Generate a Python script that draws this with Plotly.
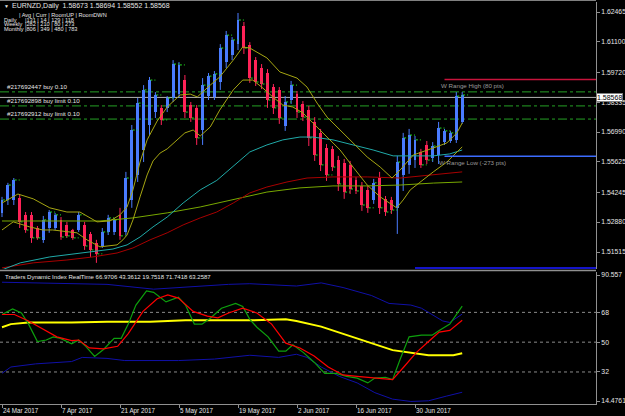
import plotly.graph_objects as go

# ---------------- data ----------------
bar_index = list(range(79))
opens = [1.5330, 1.5389, 1.5389, 1.5398, 1.5321, 1.5321, 1.5261, 1.5207, 1.5261, 1.5261,
         1.5298, 1.5275, 1.5252, 1.5252, 1.5275, 1.5234, 1.5193, 1.5179, 1.5243, 1.5243,
         1.5321, 1.5243, 1.5389, 1.5503, 1.5617, 1.5731, 1.5790, 1.5809, 1.5809, 1.5854,
         1.5872, 1.5936, 1.5822, 1.5809, 1.5708, 1.5863, 1.5859, 1.5927, 1.6018, 1.6050,
         1.6100, 1.6182, 1.6096, 1.6027, 1.5991, 1.5968, 1.5904, 1.5891, 1.5726, 1.5845,
         1.5872, 1.5827, 1.5799, 1.5745, 1.5695, 1.5626, 1.5622, 1.5571, 1.5558, 1.5549,
         1.5480, 1.5453, 1.5435, 1.5389, 1.5489, 1.5394, 1.5389, 1.5353, 1.5503, 1.5549,
         1.5571, 1.5608, 1.5640, 1.5581, 1.5594, 1.5653, 1.5658, 1.5663, 1.5745]
highs = [1.5403, 1.5467, 1.5489, 1.5412, 1.5334, 1.5334, 1.5270, 1.5316, 1.5343, 1.5330,
         1.5311, 1.5289, 1.5257, 1.5334, 1.5289, 1.5243, 1.5207, 1.5261, 1.5321, 1.5307,
         1.5353, 1.5517, 1.5731, 1.5854, 1.5913, 1.5950, 1.5881, 1.5822, 1.5863, 1.6027,
         1.6018, 1.5959, 1.5836, 1.5822, 1.5945, 1.5968, 1.5977, 1.6100, 1.6160, 1.6132,
         1.6242, 1.6201, 1.6109, 1.6041, 1.6009, 1.5986, 1.5918, 1.5904, 1.5863, 1.5932,
         1.5886, 1.5840, 1.5818, 1.5767, 1.5713, 1.5644, 1.5635, 1.5590, 1.5576, 1.5567,
         1.5494, 1.5471, 1.5453, 1.5485, 1.5517, 1.5407, 1.5403, 1.5590, 1.5695, 1.5713,
         1.5681, 1.5622, 1.5658, 1.5653, 1.5745, 1.5713, 1.5704, 1.5881, 1.5881]
lows = [1.5311, 1.5366, 1.5366, 1.5261, 1.5239, 1.5193, 1.5207, 1.5193, 1.5239, 1.5252,
        1.5207, 1.5216, 1.5207, 1.5243, 1.5161, 1.5129, 1.5102, 1.5170, 1.5229, 1.5229,
        1.5207, 1.5229, 1.5353, 1.5471, 1.5562, 1.5685, 1.5763, 1.5731, 1.5790, 1.5836,
        1.5854, 1.5763, 1.5745, 1.5640, 1.5640, 1.5845, 1.5845, 1.5891, 1.5991, 1.6027,
        1.6073, 1.6055, 1.5923, 1.5909, 1.5895, 1.5809, 1.5781, 1.5736, 1.5704, 1.5827,
        1.5763, 1.5749, 1.5635, 1.5567, 1.5521, 1.5476, 1.5521, 1.5430, 1.5394, 1.5416,
        1.5416, 1.5339, 1.5330, 1.5371, 1.5325, 1.5316, 1.5325, 1.5234, 1.5430, 1.5508,
        1.5535, 1.5535, 1.5553, 1.5562, 1.5553, 1.5640, 1.5649, 1.5649, 1.5736]
closes = [1.5389, 1.5457, 1.5480, 1.5289, 1.5252, 1.5216, 1.5216, 1.5298, 1.5334, 1.5321,
          1.5220, 1.5225, 1.5216, 1.5321, 1.5179, 1.5161, 1.5143, 1.5243, 1.5307, 1.5298,
          1.5225, 1.5489, 1.5708, 1.5831, 1.5891, 1.5936, 1.5868, 1.5754, 1.5854, 1.6009,
          1.6005, 1.5790, 1.5763, 1.5672, 1.5913, 1.5954, 1.5964, 1.6082, 1.6141, 1.6119,
          1.6210, 1.6082, 1.5945, 1.5927, 1.5918, 1.5845, 1.5809, 1.5763, 1.5836, 1.5913,
          1.5790, 1.5767, 1.5672, 1.5594, 1.5549, 1.5503, 1.5539, 1.5462, 1.5425, 1.5439,
          1.5430, 1.5366, 1.5353, 1.5467, 1.5353, 1.5334, 1.5343, 1.5562, 1.5672, 1.5685,
          1.5663, 1.5549, 1.5571, 1.5635, 1.5717, 1.5704, 1.5695, 1.5863, 1.5868]

# moving-average style lines on the price chart (bar position, price)
ma_upper_x = [0, 2.7, 5.3, 8.1, 11.0, 13.2, 16.1, 18.3, 20.0, 21.2, 22.2, 23.4, 24.6, 26.3, 28.0,
              30.2, 31.9, 33.1, 35.3, 36.9, 39.2, 40.8, 42.0, 44.9, 47.1, 50.0, 51.7, 53.4, 55.1,
              57.3, 59.5, 61.9, 64.1, 66.1, 67.5, 69.7, 73.1, 75.4, 77.1, 78.0]
ma_upper_y = [1.5375, 1.5416, 1.5394, 1.5353, 1.5334, 1.5334, 1.5289, 1.5293, 1.5321, 1.5357,
              1.5435, 1.5562, 1.5663, 1.5749, 1.5813, 1.5868, 1.5872, 1.5859, 1.5913, 1.5950,
              1.6027, 1.6087, 1.6082, 1.6037, 1.5973, 1.5945, 1.5904, 1.5831, 1.5767, 1.5708,
              1.5649, 1.5585, 1.5539, 1.5489, 1.5526, 1.5594, 1.5626, 1.5649, 1.5695, 1.5740]
ma_lower_x = [0, 1.9, 4.7, 6.9, 8.6, 12.7, 14.4, 16.6, 19.5, 20.5, 21.2, 22.2, 23.4, 24.6, 25.6,
              26.8, 28.0, 29.7, 31.0, 32.4, 33.6, 35.3, 36.9, 39.2, 40.8, 42.5, 44.2, 45.9, 47.6,
              49.3, 51.0, 52.7, 55.1, 57.3, 59.5, 61.9, 64.1, 66.1, 66.9, 68.0, 69.2, 73.1, 75.4, 78.0]
ma_lower_y = [1.5252, 1.5289, 1.5266, 1.5252, 1.5252, 1.5239, 1.5207, 1.5175, 1.5184, 1.5207,
              1.5229, 1.5298, 1.5403, 1.5503, 1.5567, 1.5603, 1.5622, 1.5663, 1.5695, 1.5708,
              1.5681, 1.5722, 1.5799, 1.5891, 1.5936, 1.5936, 1.5900, 1.5859, 1.5822, 1.5813,
              1.5786, 1.5740, 1.5676, 1.5617, 1.5539, 1.5457, 1.5403, 1.5366, 1.5353, 1.5389,
              1.5435, 1.5517, 1.5562, 1.5631]
ma_teal_x = [0, 3.1, 8.1, 11.0, 13.7, 16.6, 18.8, 21.2, 23.4, 25.6, 28.0, 30.7, 33.6, 36.4, 39.2,
             42.0, 44.9, 47.6, 50.5, 52.7, 56.1, 59.5, 62.9, 66.3, 69.2, 73.1, 75.9, 78.0]
ma_teal_y = [1.5070, 1.5102, 1.5129, 1.5138, 1.5147, 1.5156, 1.5165, 1.5184, 1.5220, 1.5266,
             1.5311, 1.5375, 1.5435, 1.5478, 1.5545, 1.5608, 1.5640, 1.5663, 1.5676, 1.5676,
             1.5663, 1.5640, 1.5617, 1.5590, 1.5590, 1.5590, 1.5599, 1.5617]
ma_darkred_x = [0, 5.3, 11.0, 15.4, 19.5, 22.2, 25.1, 28.0, 30.7, 33.6, 36.4, 39.2, 42.0, 44.9,
                48.3, 51.7, 56.1, 61.9, 67.5, 73.1, 78.0]
ma_darkred_y = [1.5079, 1.5102, 1.5115, 1.5129, 1.5147, 1.5170, 1.5207, 1.5239, 1.5275, 1.5307,
                1.5334, 1.5375, 1.5421, 1.5448, 1.5471, 1.5489, 1.5494, 1.5494, 1.5489, 1.5503, 1.5517]
ma_green_x = [0, 11.0, 16.6, 22.2, 28.0, 33.6, 39.2, 44.9, 50.5, 56.1, 61.9, 67.5, 73.1, 78.0]
ma_green_y = [1.5293, 1.5293, 1.5293, 1.5307, 1.5330, 1.5357, 1.5389, 1.5425, 1.5444, 1.5453,
              1.5453, 1.5457, 1.5466, 1.5471]

# levels
order_prices = [1.5882, 1.5818, 1.5758]
order_labels = ["#217692447 buy 0.10", "#217692898 buy limit 0.10", "#217692912 buy limit 0.10"]
bid_price = 1.58568
w_range_high = 1.5939
w_range_low = 1.5588
w_range_start = 75
m_range_low = 1.5079
m_range_start = 70

price_tick_vals = [1.62465, 1.61100, 1.59720, 1.58335, 1.56990, 1.55625, 1.54245, 1.52880, 1.51515]
price_tick_text = ["1.62465", "1.61100", "1.59720", "1.58335", "1.56990", "1.55625", "1.54245",
                   "1.52880", "1.51515"]

# Traders Dynamic Index
tdi_green_x = [0, 1.8, 3.3, 4.5, 6.0, 7.5, 8.7, 9.9, 11.8, 13.0, 14.2, 15.7, 17.2, 19.0, 20.2, 21.4,
               22.7, 24.5, 25.7, 27.8, 29.9, 31.1, 32.6, 33.9, 35.4, 37.2, 39.6, 40.8, 42.0, 43.2,
               45.1, 46.9, 48.1, 49.3, 51.1, 52.9, 54.7, 56.6, 58.4, 60.2, 62.0, 63.2, 65.0, 66.2,
               67.5, 69.0, 71.1, 72.9, 74.1, 75.9, 78.0]
tdi_green_y = [66.7, 70.1, 67.6, 60.9, 50.4, 51.3, 53.2, 52.3, 49.0, 51.3, 47.5, 41.4, 45.6, 52.3,
               52.3, 60.9, 72.4, 81.0, 80.1, 74.3, 77.2, 72.4, 60.9, 60.9, 64.7, 70.5, 73.4, 71.5,
               63.8, 59.0, 53.2, 44.6, 44.6, 48.4, 43.7, 37.9, 31.2, 31.2, 29.3, 28.3, 25.4, 28.3,
               28.7, 27.4, 39.8, 53.2, 54.2, 54.2, 57.1, 60.9, 71.7418]
tdi_red_x = [0, 2.1, 4.5, 6.9, 9.3, 11.8, 13.0, 14.8, 17.2, 19.6, 21.4, 23.9, 26.3, 28.1, 29.9,
             32.4, 34.8, 36.6, 38.4, 40.8, 43.2, 45.7, 48.1, 50.5, 52.9, 55.3, 57.8, 60.2, 63.2,
             66.2, 68.1, 70.2, 72.3, 74.1, 75.9, 78.0]
tdi_red_y = [66.7, 66.7, 62.8, 58.0, 53.2, 50.9, 51.3, 46.5, 46.0, 47.5, 55.2, 68.6, 76.2, 78.5,
             76.6, 68.6, 65.7, 64.7, 67.6, 70.5, 67.6, 60.9, 49.4, 46.5, 41.7, 35.0, 30.2, 29.3,
             28.3, 27.4, 35.0, 43.7, 50.4, 56.1, 57.1, 63.2587]
tdi_yellow_x = [0, 1.5, 4.5, 11.8, 17.8, 25.1, 31.1, 36.0, 42.0, 48.1, 49.9, 54.1, 60.2, 66.2,
                72.3, 76.5, 78.0]
tdi_yellow_y = [59.0, 60.9, 61.9, 61.9, 62.4, 62.4, 63.2, 63.2, 63.2, 63.8, 62.8, 59.4, 52.3, 45.2,
                42.1, 42.1, 43.3612]
tdi_upper_x = [0, 17.8, 25.7, 29.9, 38.4, 42.0, 49.9, 54.1, 57.8, 62.6, 65.6, 69.3, 71.1, 74.7,
               75.9, 78.0]
tdi_upper_y = [86.2, 84.9, 82.0, 83.0, 84.9, 85.3, 83.9, 85.8, 83.0, 78.2, 73.4, 72.4, 70.5, 62.8,
               61.9, 66.9706]
tdi_lower_x = [0, 1.5, 5.7, 11.8, 13.6, 17.8, 20.8, 29.9, 36.0, 42.0, 46.9, 49.9, 51.7, 54.1,
               57.2, 60.2, 63.2, 66.2, 69.3, 72.3, 75.3, 78.0]
tdi_lower_y = [31.2, 35.0, 36.9, 38.3, 40.8, 40.2, 38.9, 38.9, 39.8, 42.1, 40.8, 42.7, 40.8, 35.0,
               29.3, 25.4, 19.5, 15.6, 14.2, 14.6, 17.4, 19.7518]
tdi_levels = [68, 50, 32]
tdi_tick_vals = [90.557, 68, 50, 32, 14.4761]
tdi_tick_text = ["90.557", "68", "50", "32", "14.4761"]

date_ticks = [0, 10, 20, 30, 40, 50, 60, 70]
date_labels = ["24 Mar 2017", "7 Apr 2017", "21 Apr 2017", "5 May 2017", "19 May 2017",
               "2 Jun 2017", "16 Jun 2017", "30 Jun 2017"]

title_text = "EURNZD,Daily  1.58673 1.58694 1.58552 1.58568"
info_header = "| Avg | Curr | RoomUP | RoomDWN"
info_names = ["Daily", "Weekly", "Monthly"]
info_values = ["|131 | 14 | 129 | 118", "|282 | 210 | 80 | 273", "|806 | 349 | 480 | 783"]
tdi_title = "Traders Dynamic Index RealTime 66.9706 43.3612 19.7518 71.7418 63.2587"

# ---------------- layout constants ----------------
W, H = 625, 416
AX_X = 596          # x pixel of right axis
PX0, PXS = 2.0, 5.9  # pixel of bar 0, pixels per bar
XMIN = (0 - PX0) / PXS
XMAX = (AX_X - PX0) / PXS


def py(ypx):
    return 1 - ypx / H


FONT = "Liberation Sans"
TXT = "#e6e6e6"
BULL = "#4a7cff"
BEAR = "#ff2358"

fig = go.Figure()

# candles: wicks and bodies
for col, cond in ((BULL, lambda k: closes[k] >= opens[k]), (BEAR, lambda k: closes[k] < opens[k])):
    wx, wy, bx, by, bb = [], [], [], [], []
    for k in bar_index:
        if not cond(k):
            continue
        wx += [k, k, None]
        wy += [lows[k], highs[k], None]
        bx.append(k)
        bb.append(min(opens[k], closes[k]))
        by.append(max(abs(closes[k] - opens[k]), 0.00005))
    fig.add_trace(go.Scatter(x=wx, y=wy, mode="lines", line=dict(color=col, width=1),
                             xaxis="x", yaxis="y", hoverinfo="skip"))
    fig.add_trace(go.Bar(x=bx, y=by, base=bb, width=0.5, marker=dict(color=col, line=dict(width=0)),
                         xaxis="x", yaxis="y", hoverinfo="skip"))

# close ticks (green dashes)
dx, dy = [], []
for k in bar_index:
    dx += [k + 0.15, k + 1.0, None]
    dy += [closes[k], closes[k], None]
fig.add_trace(go.Scatter(x=dx, y=dy, mode="lines", line=dict(color="#22dd22", width=1, dash="2px,2px"),
                         xaxis="x", yaxis="y", hoverinfo="skip"))

# price lines
for xs, ys, col in ((ma_green_x, ma_green_y, "#78a800"),
                    (ma_darkred_x, ma_darkred_y, "#a80000"),
                    (ma_teal_x, ma_teal_y, "#20aaa8"),
                    (ma_lower_x, ma_lower_y, "#a6a612"),
                    (ma_upper_x, ma_upper_y, "#a6a612")):
    fig.add_trace(go.Scatter(x=xs, y=ys, mode="lines", line=dict(color=col, width=1),
                             xaxis="x", yaxis="y", hoverinfo="skip"))

# TDI lines
for xs, ys, col, w in ((tdi_upper_x, tdi_upper_y, "#1010a8", 1),
                       (tdi_lower_x, tdi_lower_y, "#1010a8", 1),
                       (tdi_yellow_x, tdi_yellow_y, "#ffff00", 2),
                       (tdi_green_x, tdi_green_y, "#0da00d", 1.2),
                       (tdi_red_x, tdi_red_y, "#ff0000", 1.2)):
    fig.add_trace(go.Scatter(x=xs, y=ys, mode="lines", line=dict(color=col, width=w),
                             xaxis="x", yaxis="y2", hoverinfo="skip"))

shapes = []
# order lines
for p in order_prices:
    shapes.append(dict(type="line", xref="x", yref="y", x0=XMIN, x1=XMAX, y0=p, y1=p,
                       line=dict(color="#25a025", width=1, dash="dashdot"), layer="below"))
# bid line
shapes.append(dict(type="line", xref="x", yref="y", x0=XMIN, x1=XMAX, y0=bid_price, y1=bid_price,
                   line=dict(color="#b4b4b4", width=1), layer="below"))
# weekly / monthly range lines
shapes.append(dict(type="line", xref="x", yref="y", x0=w_range_start, x1=XMAX, y0=w_range_high,
                   y1=w_range_high, line=dict(color="#c8143c", width=1.5)))
shapes.append(dict(type="line", xref="x", yref="y", x0=w_range_start, x1=XMAX, y0=w_range_low,
                   y1=w_range_low, line=dict(color="#3c6cff", width=1.5)))
shapes.append(dict(type="line", xref="x", yref="y", x0=m_range_start, x1=XMAX, y0=m_range_low,
                   y1=m_range_low, line=dict(color="#1414c8", width=2)))
# TDI dotted levels
for lv in tdi_levels:
    shapes.append(dict(type="line", xref="x", yref="y2", x0=XMIN, x1=XMAX, y0=lv, y1=lv,
                       line=dict(color="#8a8a8a", width=1, dash="dot"), layer="below"))
# frame / separators
shapes.append(dict(type="line", xref="paper", yref="paper", x0=0, x1=AX_X / W, y0=py(0.5), y1=py(0.5),
                   line=dict(color="#808080", width=1)))
shapes.append(dict(type="line", xref="paper", yref="paper", x0=0, x1=AX_X / W, y0=py(270.5), y1=py(270.5),
                   line=dict(color="#909090", width=1.5)))

ann = []
# title + info block (the rows overlap slightly in the original terminal, kept compact)
ann.append(dict(text="▼", x=2 / W, y=py(5.5), xref="paper", yref="paper", xanchor="left",
                yanchor="middle", showarrow=False, font=dict(family=FONT, size=5, color=TXT)))
ann.append(dict(text=title_text, x=10 / W, y=py(6), xref="paper", yref="paper", xanchor="left",
                yanchor="middle", showarrow=False, font=dict(family=FONT, size=7, color=TXT)))
info_lines = ["      " + info_header] + [nm for nm in info_names]
ann.append(dict(text=info_header, x=17 / W, y=py(15), xref="paper", yref="paper", xanchor="left",
                yanchor="middle", showarrow=False, font=dict(family=FONT, size=5.6, color=TXT)))
for j, (nm, vals) in enumerate(zip(info_names, info_values)):
    yy = 19.6 + 4.5 * j
    ann.append(dict(text=nm + "  " + vals if False else nm, x=2 / W, y=py(yy), xref="paper",
                    yref="paper", xanchor="left", yanchor="middle", showarrow=False,
                    font=dict(family=FONT, size=5.6, color=TXT)))
    ann.append(dict(text=vals, x=23 / W, y=py(yy), xref="paper", yref="paper", xanchor="left",
                    yanchor="middle", showarrow=False, font=dict(family=FONT, size=5.6, color=TXT)))
# order labels
for p, lab in zip(order_prices, order_labels):
    ann.append(dict(text=lab, x=5 / W, y=p, xref="paper", yref="y", xanchor="left", yanchor="bottom",
                    showarrow=False, font=dict(family=FONT, size=6.2, color=TXT)))
# range labels
ann.append(dict(text="W Range High (80 pts)", x=439 / W, y=w_range_high, xref="paper", yref="y",
                xanchor="left", yanchor="top", yshift=-0.5, showarrow=False,
                font=dict(family=FONT, size=6.2, color="#9a9a9a")))
ann.append(dict(text="W Range Low (-273 pts)", x=437 / W, y=w_range_low, xref="paper", yref="y",
                xanchor="left", yanchor="top", yshift=-0.5, showarrow=False,
                font=dict(family=FONT, size=6.2, color="#9a9a9a")))
# bid price box
ann.append(dict(text="1.58568", x=AX_X / W, y=bid_price, xref="paper", yref="y", xanchor="left",
                yanchor="middle", showarrow=False, bgcolor="#ffffff", bordercolor="#808080",
                borderwidth=1, borderpad=0, font=dict(family=FONT, size=7, color="#000000")))
# TDI title
ann.append(dict(text=tdi_title, x=3 / W, y=py(276.5), xref="paper", yref="paper", xanchor="left",
                yanchor="middle", showarrow=False, font=dict(family=FONT, size=6, color=TXT)))
# date labels
for k, lab in zip(date_ticks, date_labels):
    ann.append(dict(text=lab, x=k, y=py(410.5), xref="x", yref="paper", xanchor="left",
                    yanchor="middle", xshift=-1, showarrow=False,
                    font=dict(family=FONT, size=6.3, color=TXT)))

axis_common = dict(showgrid=False, zeroline=False, showline=True, linecolor="#909090", linewidth=1,
                   ticks="outside", ticklen=3, tickcolor="#909090",
                   tickfont=dict(family=FONT, size=6.8, color=TXT), fixedrange=True)

fig.update_layout(
    width=W, height=H, margin=dict(l=0, r=0, t=0, b=0, pad=0),
    paper_bgcolor="#000000", plot_bgcolor="#000000", showlegend=False,
    barmode="overlay", bargap=0, shapes=shapes, annotations=ann,
    xaxis=dict(domain=[0, AX_X / W], range=[XMIN, XMAX], anchor="y2", showgrid=False,
               zeroline=False, showticklabels=False, ticks="outside", ticklen=3,
               tickcolor="#909090", tickvals=date_ticks, showline=True, linecolor="#909090",
               linewidth=1, fixedrange=True),
    yaxis=dict(domain=[py(269), py(2)], range=[1.630125 - 0.00045625 * 269, 1.630125 - 0.00045625 * 2],
               side="right", anchor="x", tickvals=price_tick_vals, ticktext=price_tick_text,
               **axis_common),
    yaxis2=dict(domain=[py(404), py(272)], range=[256.608 - 0.60382 * 404, 256.608 - 0.60382 * 272],
                side="right", anchor="x", tickvals=tdi_tick_vals, ticktext=tdi_tick_text,
                **axis_common),
)

fig.write_html("out.html")
